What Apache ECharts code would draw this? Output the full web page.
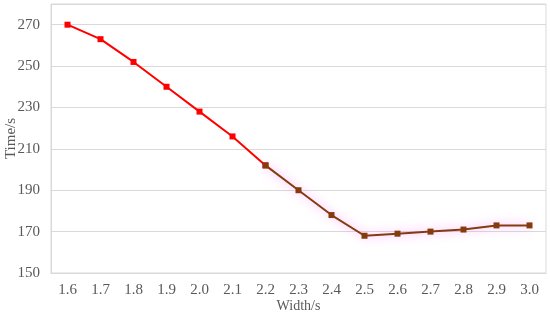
<!DOCTYPE html>
<html><head><meta charset="utf-8">
<script src="https://cdn.jsdelivr.net/npm/echarts@6/dist/echarts.min.js"></script>
<style>html,body{margin:0;padding:0;background:#fff}#c{width:550px;height:315px}</style>
</head><body><div id="c"></div>
<script>
const categories = ['1.6','1.7','1.8','1.9','2.0','2.1','2.2','2.3','2.4','2.5','2.6','2.7','2.8','2.9','3.0'];
const redValues = [270,263,252,240,228,216,202,null,null,null,null,null,null,null,null];
const brownValues = [null,null,null,null,null,null,202,190,178,168,169,170,171,173,173];
const yTicks = [150,170,190,210,230,250,270];

const font = 'Liberation Serif, Times New Roman, serif';
const chart = echarts.init(document.getElementById('c'));
chart.setOption({
  animation:false,
  grid:{left:51,right:4,top:4,bottom:42,show:true,borderColor:'#d9d9d9',borderWidth:1,
    containLabel:false,outerBoundsMode:'none'},
  xAxis:{type:'category',data:categories,boundaryGap:true,
    name:'Width/s',nameLocation:'middle',nameGap:26,nameMoveOverlap:false,
    nameTextStyle:{fontFamily:font,fontSize:14,color:'#595959'},
    axisLine:{lineStyle:{color:'#d9d9d9'}},axisTick:{show:false},
    axisLabel:{fontFamily:font,fontSize:15,color:'#595959',margin:10}},
  yAxis:{type:'value',min:150,max:280,interval:20,
    name:'Time/s',nameLocation:'middle',nameGap:32,nameMoveOverlap:false,
    nameTextStyle:{fontFamily:font,fontSize:15,color:'#595959'},
    axisLine:{show:true,lineStyle:{color:'#d9d9d9'}},axisTick:{show:false},
    splitLine:{lineStyle:{color:'#d9d9d9'}},
    axisLabel:{fontFamily:font,fontSize:15,color:'#595959',margin:11,showMaxLabel:false,
      formatter:v=>yTicks.includes(v)?String(v):''}},
  series:[
    {type:'line',data:redValues,symbol:'rect',symbolSize:6,
      lineStyle:{color:'#ff0000',width:2},itemStyle:{color:'#ff0000'}},
    {type:'line',data:brownValues,symbol:'rect',symbolSize:6,
      lineStyle:{color:'#843c0c',width:2,shadowColor:'rgba(255,80,255,0.7)',shadowBlur:10},
      itemStyle:{color:'#843c0c'}}
  ]
});
</script></body></html>
